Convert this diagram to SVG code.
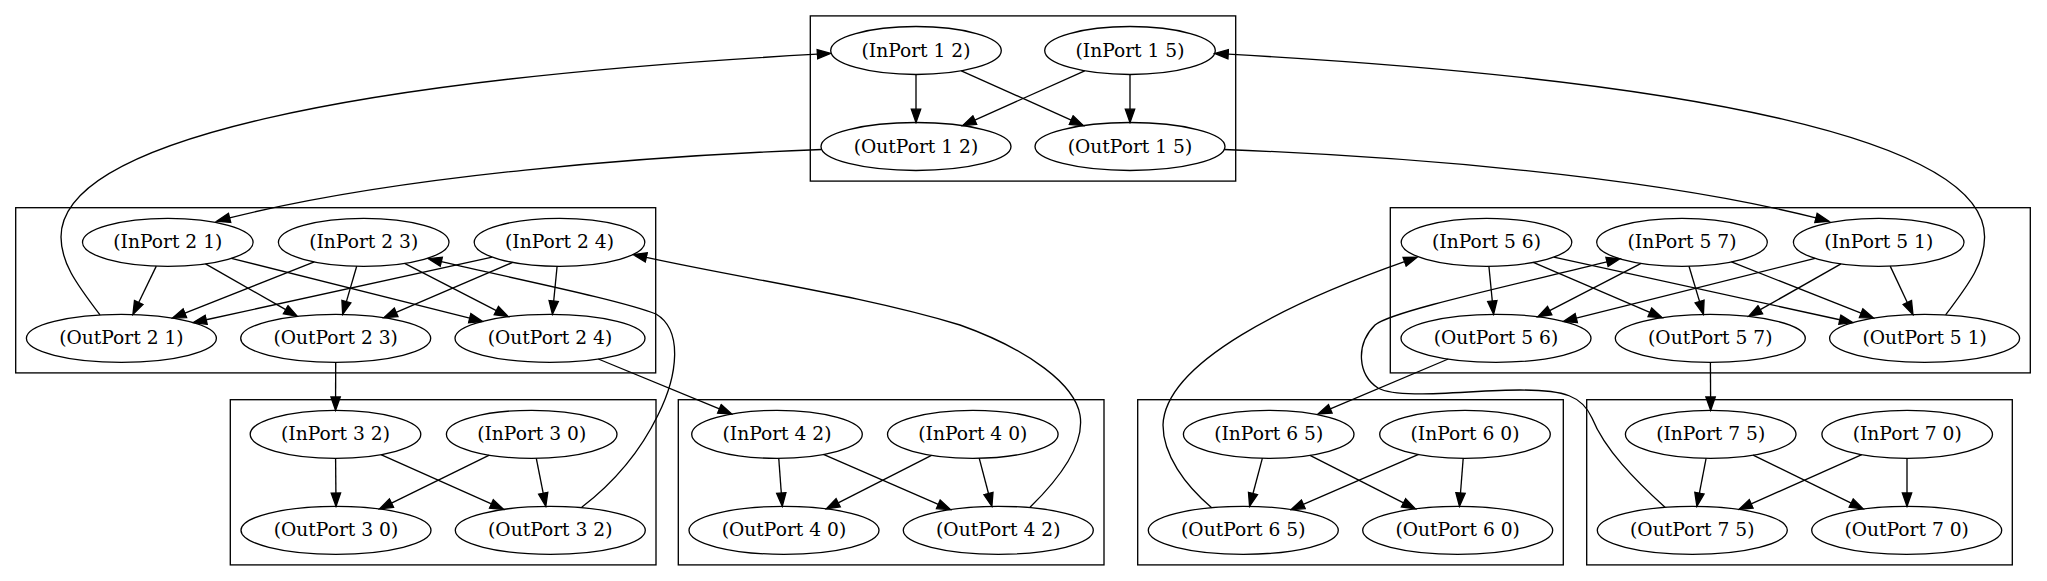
<svg xmlns="http://www.w3.org/2000/svg" width="2047" height="581" viewBox="0 0 2047 581">
<defs>
<style>
.c{fill:none;stroke:#000;stroke-width:1.33}
.n ellipse{fill:none;stroke:#000;stroke-width:1.33}
.n text{font-family:"DejaVu Serif",serif;font-size:18.67px;text-anchor:middle;fill:#000}
#edges path{fill:none;stroke:#000;stroke-width:1.33;marker-end:url(#ah)}
</style>
<marker id="ah" viewBox="-1 -6 16 12" refX="0" refY="0" markerWidth="16" markerHeight="12" orient="auto" markerUnits="userSpaceOnUse">
<path d="M0,-4.67 L13.33,0 L0,4.67 Z" fill="#000" stroke="#000" stroke-width="1.33"/>
</marker>
</defs>
<rect width="2047" height="581" fill="#fff"/>

<g id="clusters">
<rect class="c" x="810.3" y="15.9" width="425.4" height="165.2"/>
<rect class="c" x="15.7" y="207.7" width="640" height="165.2"/>
<rect class="c" x="230.3" y="399.7" width="425.7" height="165.2"/>
<rect class="c" x="678.3" y="399.7" width="425.7" height="165.2"/>
<rect class="c" x="1390.3" y="207.7" width="640" height="165.2"/>
<rect class="c" x="1137.7" y="399.7" width="425.6" height="165.2"/>
<rect class="c" x="1586.7" y="399.7" width="425.6" height="165.2"/>
</g>

<g id="edges">
<path d="M916,74.5 L916,109.17"/>
<path d="M961.3,70.8 L1071.2,120.1"/>
<path d="M1084.7,70.8 L974.8,120.1"/>
<path d="M1130,74.5 L1130,109.17"/>

<path d="M156.3,266.1 L138.7,302.5"/>
<path d="M205.5,263.8 L285.7,309.7"/>
<path d="M231.4,258.3 L469.7,318.15"/>
<path d="M314.3,261.9 L184.9,313.2"/>
<path d="M356.7,266.2 L346.4,301.6"/>
<path d="M404.6,263.4 L496.35,310.6"/>
<path d="M492.2,257.05 L206.2,319.75"/>
<path d="M512.7,262.4 L396.15,312.35"/>
<path d="M557.1,266.3 L553.7,301.0"/>

<path d="M1488.9,266.3 L1492.3,301.0"/>
<path d="M1533.3,262.4 L1649.85,312.35"/>
<path d="M1553.8,257.05 L1839.8,319.75"/>
<path d="M1641.1,263.4 L1549.65,310.6"/>
<path d="M1689,266.2 L1699.6,301.6"/>
<path d="M1731.4,261.9 L1861.1,313.2"/>
<path d="M1815.1,258.3 L1576.3,318.15"/>
<path d="M1841.0,263.8 L1760.3,309.7"/>
<path d="M1890.2,266.1 L1907.3,302.5"/>

<path d="M335.6,458.3 L335.9,493.0"/>
<path d="M380.9,454.6 L491.4,503.9"/>
<path d="M489.3,455.1 L391.5,503.1"/>
<path d="M536.3,458.3 L543.2,493.2"/>

<path d="M778.75,458.3 L781.3,493.0"/>
<path d="M823.4,454.4 L938.3,504.3"/>
<path d="M931.5,455.3 L838.2,502.8"/>
<path d="M979.2,458.2 L988.5,493.5"/>

<path d="M1262.4,458.2 L1253.0,493.5"/>
<path d="M1310,455.3 L1403.5,502.8"/>
<path d="M1418.6,454.4 L1303.3,504.3"/>
<path d="M1463.2,458.3 L1460.5,493.0"/>

<path d="M1706.1,458.3 L1699.4,493.2"/>
<path d="M1753.1,455.1 L1851.2,503.1"/>
<path d="M1861.8,454.6 L1751.2,503.9"/>
<path d="M1907,458.3 L1907,493.0"/>

<path d="M821.8,149.5 C650,156 400,175 229.6,217.9"/>
<path d="M100,314.9 C75,282 61,262 61,237 C61,140 350,80 817.4,54.2"/>
<path d="M1223.8,149.5 C1395.6,156 1645.6,175 1816,217.9"/>
<path d="M1945.6,314.9 C1970.6,282 1984.6,262 1984.6,237 C1984.6,140 1695.6,80 1228.2,54.2"/>
<path d="M335.7,362.3 L335.6,397"/>
<path d="M581.7,507.3 C612,484 640,452 658,415 C678,375 683,330 656,314 C620,300 520,280 441.3,261.7"/>
<path d="M598.3,359 L719.4,408.9"/>
<path d="M1030,507.3 C1060,478 1085,445 1080,415 C1075,385 1030,350 960,325 C860,295 750,280 646.3,257.4"/>
<path d="M1448.3,359 L1330.3,408.8"/>
<path d="M1211.7,507.7 C1185,485 1163,455 1163,425 C1165,362 1290,302 1404.6,261.7"/>
<path d="M1710.4,362.3 L1710.6,397"/>
<path d="M1665,507.3 C1635,480 1605,450 1592,418 C1582,396 1565,390 1520,390 C1470,390 1400,400 1378,388 C1358,375 1355,345 1375,325 C1390,312 1500,288 1607,261.9"/>
</g>

<g id="in_1_2" class="n"><ellipse cx="916" cy="50.5" rx="85.3" ry="24"/><text x="916" y="56.5">(InPort 1 2)</text></g>
<g id="in_1_5" class="n"><ellipse cx="1130" cy="50.5" rx="85.3" ry="24"/><text x="1130" y="56.5">(InPort 1 5)</text></g>
<g id="out_1_2" class="n"><ellipse cx="916" cy="146.5" rx="95" ry="24"/><text x="916" y="152.5">(OutPort 1 2)</text></g>
<g id="out_1_5" class="n"><ellipse cx="1130" cy="146.5" rx="95" ry="24"/><text x="1130" y="152.5">(OutPort 1 5)</text></g>

<g id="in_2_1" class="n"><ellipse cx="167.8" cy="242.3" rx="85.3" ry="24"/><text x="167.8" y="248.3">(InPort 2 1)</text></g>
<g id="in_2_3" class="n"><ellipse cx="363.7" cy="242.3" rx="85.3" ry="24"/><text x="363.7" y="248.3">(InPort 2 3)</text></g>
<g id="in_2_4" class="n"><ellipse cx="559.5" cy="242.3" rx="85.3" ry="24"/><text x="559.5" y="248.3">(InPort 2 4)</text></g>
<g id="out_2_1" class="n"><ellipse cx="121.4" cy="338.3" rx="95" ry="24"/><text x="121.4" y="344.3">(OutPort 2 1)</text></g>
<g id="out_2_3" class="n"><ellipse cx="335.7" cy="338.3" rx="95" ry="24"/><text x="335.7" y="344.3">(OutPort 2 3)</text></g>
<g id="out_2_4" class="n"><ellipse cx="550" cy="338.3" rx="95" ry="24"/><text x="550" y="344.3">(OutPort 2 4)</text></g>

<g id="in_3_2" class="n"><ellipse cx="335.5" cy="434.3" rx="85.3" ry="24"/><text x="335.5" y="440.3">(InPort 3 2)</text></g>
<g id="in_3_0" class="n"><ellipse cx="531.7" cy="434.3" rx="85.3" ry="24"/><text x="531.7" y="440.3">(InPort 3 0)</text></g>
<g id="out_3_0" class="n"><ellipse cx="336" cy="530.3" rx="95" ry="24"/><text x="336" y="536.3">(OutPort 3 0)</text></g>
<g id="out_3_2" class="n"><ellipse cx="550.3" cy="530.3" rx="95" ry="24"/><text x="550.3" y="536.3">(OutPort 3 2)</text></g>

<g id="in_4_2" class="n"><ellipse cx="777" cy="434.3" rx="85.3" ry="24"/><text x="777" y="440.3">(InPort 4 2)</text></g>
<g id="in_4_0" class="n"><ellipse cx="972.8" cy="434.3" rx="85.3" ry="24"/><text x="972.8" y="440.3">(InPort 4 0)</text></g>
<g id="out_4_0" class="n"><ellipse cx="784" cy="530.3" rx="95" ry="24"/><text x="784" y="536.3">(OutPort 4 0)</text></g>
<g id="out_4_2" class="n"><ellipse cx="998.3" cy="530.3" rx="95" ry="24"/><text x="998.3" y="536.3">(OutPort 4 2)</text></g>

<g id="in_5_6" class="n"><ellipse cx="1486.5" cy="242.3" rx="85.3" ry="24"/><text x="1486.5" y="248.3">(InPort 5 6)</text></g>
<g id="in_5_7" class="n"><ellipse cx="1682" cy="242.3" rx="85.3" ry="24"/><text x="1682" y="248.3">(InPort 5 7)</text></g>
<g id="in_5_1" class="n"><ellipse cx="1878.7" cy="242.3" rx="85.3" ry="24"/><text x="1878.7" y="248.3">(InPort 5 1)</text></g>
<g id="out_5_6" class="n"><ellipse cx="1496" cy="338.3" rx="95" ry="24"/><text x="1496" y="344.3">(OutPort 5 6)</text></g>
<g id="out_5_7" class="n"><ellipse cx="1710.3" cy="338.3" rx="95" ry="24"/><text x="1710.3" y="344.3">(OutPort 5 7)</text></g>
<g id="out_5_1" class="n"><ellipse cx="1924.6" cy="338.3" rx="95" ry="24"/><text x="1924.6" y="344.3">(OutPort 5 1)</text></g>

<g id="in_6_5" class="n"><ellipse cx="1268.7" cy="434.3" rx="85.3" ry="24"/><text x="1268.7" y="440.3">(InPort 6 5)</text></g>
<g id="in_6_0" class="n"><ellipse cx="1465" cy="434.3" rx="85.3" ry="24"/><text x="1465" y="440.3">(InPort 6 0)</text></g>
<g id="out_6_5" class="n"><ellipse cx="1243.3" cy="530.3" rx="95" ry="24"/><text x="1243.3" y="536.3">(OutPort 6 5)</text></g>
<g id="out_6_0" class="n"><ellipse cx="1457.7" cy="530.3" rx="95" ry="24"/><text x="1457.7" y="536.3">(OutPort 6 0)</text></g>

<g id="in_7_5" class="n"><ellipse cx="1710.7" cy="434.3" rx="85.3" ry="24"/><text x="1710.7" y="440.3">(InPort 7 5)</text></g>
<g id="in_7_0" class="n"><ellipse cx="1907.2" cy="434.3" rx="85.3" ry="24"/><text x="1907.2" y="440.3">(InPort 7 0)</text></g>
<g id="out_7_5" class="n"><ellipse cx="1692.3" cy="530.3" rx="95" ry="24"/><text x="1692.3" y="536.3">(OutPort 7 5)</text></g>
<g id="out_7_0" class="n"><ellipse cx="1906.7" cy="530.3" rx="95" ry="24"/><text x="1906.7" y="536.3">(OutPort 7 0)</text></g>
</svg>
